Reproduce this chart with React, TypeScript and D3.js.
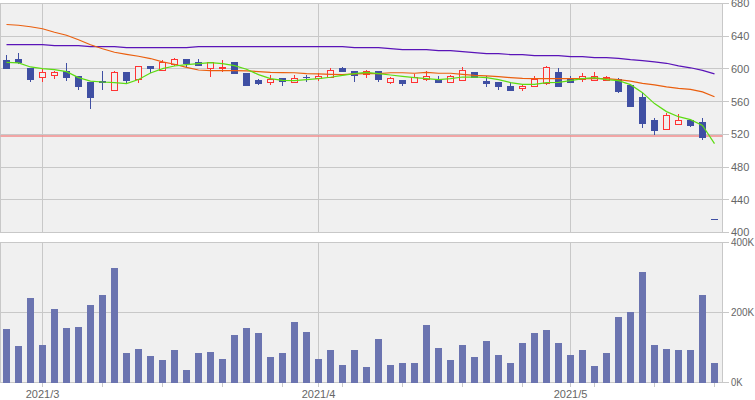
import React from 'react';
import * as d3 from 'd3';

const dates = [
  '2021-02-24', '2021-02-25', '2021-02-26',
  '2021-03-01', '2021-03-02', '2021-03-03', '2021-03-04', '2021-03-05',
  '2021-03-08', '2021-03-09', '2021-03-10', '2021-03-11', '2021-03-12',
  '2021-03-15', '2021-03-16', '2021-03-17', '2021-03-18', '2021-03-19',
  '2021-03-22', '2021-03-23', '2021-03-24', '2021-03-25', '2021-03-26',
  '2021-03-29', '2021-03-30', '2021-03-31', '2021-04-01', '2021-04-02',
  '2021-04-05', '2021-04-06', '2021-04-07', '2021-04-08', '2021-04-09',
  '2021-04-12', '2021-04-13', '2021-04-14', '2021-04-15', '2021-04-16',
  '2021-04-19', '2021-04-20', '2021-04-21', '2021-04-22', '2021-04-23',
  '2021-04-26', '2021-04-27', '2021-04-28', '2021-04-30',
  '2021-05-06', '2021-05-07',
  '2021-05-10', '2021-05-11', '2021-05-12', '2021-05-13', '2021-05-14',
  '2021-05-17', '2021-05-18', '2021-05-19', '2021-05-20', '2021-05-21',
  '2021-05-24',
];

const opens = [611, 612, 601, 589, 592, 598, 591, 584, 585, 573.5, 596, 587, 603, 598, 606, 612, 609, 600, 601, 608,
  595, 587, 583, 589, 583, 590, 588, 589, 601, 598, 593, 597, 583, 587, 583, 587, 587, 583, 586, 596,
  585, 584, 579, 576, 578, 582, 596, 588.5, 587, 586, 586, 588, 580, 566, 537.5, 526, 532, 537, 535, 417];
const highs = [617, 620, 601, 600, 598, 607, 591, 584, 598, 597, 596, 603, 603, 611, 613, 612, 612, 608, 611, 608,
  595, 588, 592, 589.5, 592, 593, 595.5, 601, 602, 598, 599, 597, 590, 587, 594, 597, 591, 593, 602, 596,
  591, 584, 584, 582, 591, 603, 601, 591, 595, 596, 591, 589, 581, 571, 540, 546, 544.5, 538, 540, 417];
const lows = [600, 606, 584, 584, 588, 585, 574, 551, 574, 573, 583, 583, 595, 598, 603, 602, 604, 590, 596, 594,
  579, 580, 580, 579, 583, 584, 585, 589, 596, 584, 589, 584, 582, 579, 583, 585, 583, 583, 586, 589,
  578, 574, 573, 573.5, 578, 580, 578, 583, 584, 586, 585, 570.5, 553, 528, 519, 526, 532, 529, 513, 417];
const closes = [600, 607, 587, 596, 596, 589, 578, 564, 583, 596, 585, 603, 600, 608, 611, 606, 604, 608, 601.5, 594,
  579, 582, 587, 584, 588, 589, 591, 598, 596, 591, 597, 586.5, 588, 582, 589, 591, 583, 591, 598, 589.5,
  581, 578, 573, 579, 587, 601.5, 578, 583, 591, 591, 590, 572, 553, 533, 524, 543, 537, 530, 515, 417];

const volumes = [152000, 103000, 241000, 106000, 210000, 155000, 158000, 221000, 250000, 327000,
  83000, 95000, 75000, 63000, 92000, 37000, 83000, 86000, 66000, 135000,
  155000, 141000, 72000, 83000, 172000, 144000, 66000, 92000, 49000, 92000,
  43000, 123000, 49000, 55000, 55000, 164000, 100000, 63000, 106000, 72000,
  118000, 78000, 57000, 112000, 141000, 149000, 112000, 78000, 92000, 46000,
  83000, 187000, 201000, 316000, 106000, 95000, 92000, 92000, 250000, 55000];

const ma5 = [608.1, 607.3, 602.4, 600.4, 599.2, 596.7, 589.4, 585.2, 584, 583.3,
  582, 587, 595, 600.4, 603.6, 605.3, 606.5, 607.8, 606.5, 604,
  599.6, 593, 588.2, 586.1, 585.7, 587, 588.2, 589.8, 592.2, 594.3,
  595.9, 594.3, 592.6, 591, 589.4, 588.2, 587, 588.2, 590.1, 590.1,
  589.4, 587, 583.3, 581.2, 581.2, 583.3, 583.6, 585.7, 588.2, 589.4,
  587, 585.7, 580.8, 571, 557.6, 547.8, 541.6, 538, 531, 508.6];
const ma25 = [654.3, 653.4, 651.6, 649.1, 644.9, 641.2, 635.7, 629.5, 624.7, 620.4,
  617.9, 615.5, 612.7, 608.7, 605.7, 602, 598.7, 598, 598, 598,
  597.7, 596.7, 595.9, 595.5, 595.3, 594.3, 594, 593.4, 593, 594,
  594.3, 594.3, 595.3, 595.3, 594.7, 595.9, 594.7, 594.7, 593.4, 592.2,
  591.4, 590.6, 589.4, 588.5, 588.2, 588.2, 588.2, 588.2, 588.2, 588.2,
  588.2, 587, 585, 582.4, 580.6, 578.1, 576.3, 575.1, 572, 565.9];
const ma75 = [629.6, 629.6, 629.6, 629.6, 628.4, 628.4, 628.4, 627.2, 627.2, 627.2,
  626.1, 626.1, 626.1, 626.1, 626.1, 626.1, 627.2, 627.2, 627.2, 627.2,
  627.2, 627.2, 627.2, 627.2, 627.2, 627.2, 627.2, 627.2, 627.2, 626.1,
  626.1, 626.1, 624.9, 623.7, 623.7, 623.7, 622.4, 622.4, 621.2, 620,
  618.8, 618.8, 617.6, 617.6, 616.3, 616.3, 616.3, 615.1, 615.1, 613.9,
  613.9, 613, 611.4, 610.2, 608.7, 606.9, 603.8, 601.4, 598.3, 594];

const priceTicks = [400, 440, 480, 520, 560, 600, 640, 680];
const volumeTicks = [0, 200000, 400000];
const volumeTickLabels = ['0K', '200K', '400K'];
const monthStarts = ['2021-03-01', '2021-04-01', '2021-05-06'];
const monthLabels = ['2021/3', '2021/4', '2021/5'];
const weekStarts = ['2021-03-08', '2021-03-15', '2021-03-22', '2021-03-29', '2021-04-05', '2021-04-12',
  '2021-04-19', '2021-04-26', '2021-05-10', '2021-05-17', '2021-05-24'];
const supportLevel = 518;

const W = 755;
const H = 400;
const PL = 0.5;
const PR = 722.5;
const P_TOP = 3.5;
const P_BOT = 232.5;
const V_TOP = 242.5;
const V_BOT = 382.5;

const COL_BG = '#f0f0f0';
const COL_GRID = '#c8c8c8';
const COL_UP = '#ff3333';
const COL_DOWN = '#3f4fa3';
const COL_VOL = '#6b74b0';
const COL_TEXT = '#666666';
const FONT = '"Liberation Sans", Arial, sans-serif';

export default function App() {
  const x = d3.scalePoint<string>().domain(dates).range([6.5, 714.5]);
  const y = d3.scaleLinear().domain([400, 680]).range([P_BOT, P_TOP]);
  const yv = d3.scaleLinear().domain([0, 400000]).range([V_BOT, V_TOP]);

  const line = d3.line<number>().x((_, i) => x(dates[i]) as number).y((d) => y(d));

  return (
    <svg width={W} height={H} style={{ position: 'absolute', left: 0, top: 0, background: '#ffffff' }}
      fontFamily={FONT}>
      {/* panels */}
      <rect x={PL} y={P_TOP} width={PR - PL} height={P_BOT - P_TOP} fill={COL_BG} stroke={COL_GRID} shapeRendering="crispEdges" />
      <rect x={PL} y={V_TOP} width={PR - PL} height={V_BOT - V_TOP} fill={COL_BG} stroke={COL_GRID} shapeRendering="crispEdges" />

      {/* price grid + axis */}
      {priceTicks.map((t) => (
        <g key={'p' + t}>
          <line x1={PL} x2={PR + 6} y1={y(t)} y2={y(t)} stroke={COL_GRID} shapeRendering="crispEdges" />
          <text x={731} y={y(t)} dy="0.36em" fontSize={11} fill={COL_TEXT}>{t}</text>
        </g>
      ))}
      {/* volume grid + axis */}
      {volumeTicks.map((t, i) => (
        <g key={'v' + t}>
          <line x1={PL} x2={PR + 6} y1={yv(t)} y2={yv(t)} stroke={COL_GRID} shapeRendering="crispEdges" />
          <text x={731} y={yv(t)} dy="0.36em" fontSize={10.5} fill={COL_TEXT}
            textLength={volumeTickLabels[i].length * 5.8} lengthAdjust="spacingAndGlyphs">{volumeTickLabels[i]}</text>
        </g>
      ))}
      <line x1={PR} x2={PR} y1={P_TOP} y2={P_BOT} stroke={COL_GRID} shapeRendering="crispEdges" />
      <line x1={PR} x2={PR} y1={V_TOP} y2={V_BOT} stroke={COL_GRID} shapeRendering="crispEdges" />

      {/* month lines */}
      {monthStarts.map((d, i) => (
        <g key={'m' + d}>
          <line x1={x(d)} x2={x(d)} y1={P_TOP} y2={P_BOT} stroke={COL_GRID} shapeRendering="crispEdges" />
          <line x1={x(d)} x2={x(d)} y1={V_TOP} y2={V_BOT + 4} stroke={COL_GRID} shapeRendering="crispEdges" />
          <text x={x(d)} y={398} textAnchor="middle" fontSize={11} fill={COL_TEXT}>{monthLabels[i]}</text>
        </g>
      ))}
      {weekStarts.map((d) => (
        <line key={'w' + d} x1={x(d)} x2={x(d)} y1={V_BOT} y2={V_BOT + 4} stroke={COL_GRID} shapeRendering="crispEdges" />
      ))}

      {/* support line */}
      <line x1={PL} x2={PR} y1={y(supportLevel)} y2={y(supportLevel)} stroke="#f28c8c" strokeWidth={1.5} />

      {/* volume bars */}
      {dates.map((d, i) => (
        <rect key={'vb' + d} x={(x(d) as number) - 3.5} width={7} y={yv(volumes[i])}
          height={V_BOT - yv(volumes[i])} fill={COL_VOL} shapeRendering="crispEdges" />
      ))}

      {/* candles */}
      {dates.map((d, i) => {
        const cx = x(d) as number;
        const o = opens[i], c = closes[i];
        const up = c > o;
        const top = y(Math.max(o, c));
        const bot = y(Math.min(o, c));
        const col = up ? COL_UP : COL_DOWN;
        return (
          <g key={'c' + d} shapeRendering="crispEdges">
            <line x1={cx} x2={cx} y1={y(highs[i])} y2={y(lows[i])} stroke={col} />
            {up ? (
              <rect x={cx - 3} y={top} width={6} height={Math.max(1, bot - top)} fill={COL_BG} stroke={col} />
            ) : (
              <rect x={cx - 3.5} y={top} width={7} height={Math.max(1, bot - top)} fill={col} />
            )}
          </g>
        );
      })}

      {/* moving averages */}
      <path d={line(ma75) || ''} fill="none" stroke="#5a14b8" strokeWidth={1.2} />
      <path d={line(ma25) || ''} fill="none" stroke="#ea5f0e" strokeWidth={1.2} />
      <path d={line(ma5) || ''} fill="none" stroke="#5ddc12" strokeWidth={1.2} />
    </svg>
  );
}
